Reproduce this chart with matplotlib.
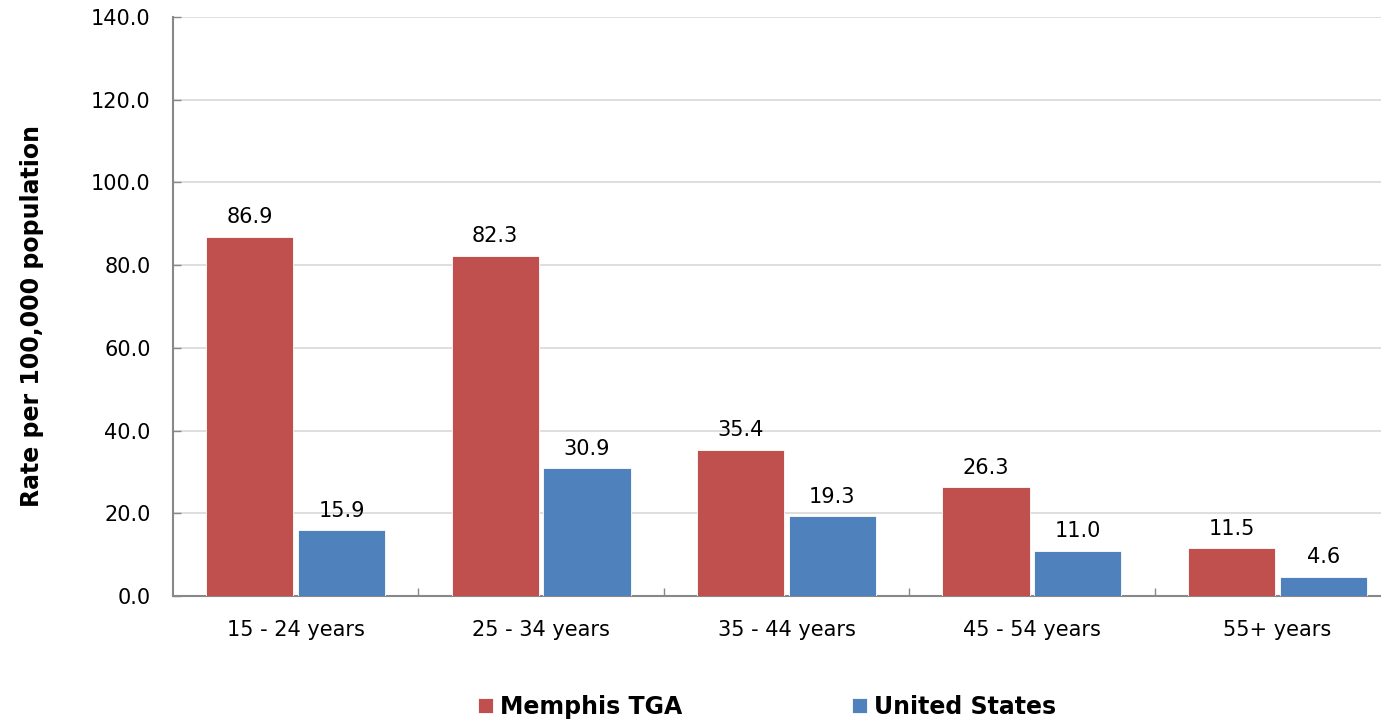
import matplotlib
matplotlib.use("Agg")
import matplotlib.pyplot as plt
import numpy as np

categories = ["15 - 24 years", "25 - 34 years", "35 - 44 years", "45 - 54 years", "55+ years"]
memphis = [86.9, 82.3, 35.4, 26.3, 11.5]
us = [15.9, 30.9, 19.3, 11.0, 4.6]
series_names = ["Memphis TGA", "United States"]
colors = ["#C0504D", "#4F81BD"]

plt.rcParams['font.family'] = ['DejaVu Sans']
fig = plt.figure(figsize=(13.81, 7.22), dpi=100)
W, H = 1381, 722
ax = fig.add_axes([173 / W, 1 - 596 / H, (1381 - 173) / W, (596 - 17) / H])

x = np.arange(len(categories))
bw = 0.355
off = 0.187
b1 = ax.bar(x - off, memphis, bw, color=colors[0], edgecolor="white", linewidth=0.6, label=series_names[0], zorder=3)
b2 = ax.bar(x + off, us, bw, color=colors[1], edgecolor="white", linewidth=0.6, label=series_names[1], zorder=3)

fs = 15
for bars, vals in ((b1, memphis), (b2, us)):
    for r, v in zip(bars, vals):
        ax.text(r.get_x() + r.get_width() / 2, v + 2.3, f"{v:.1f}", ha="center", va="bottom", fontsize=fs, color="black")

ax.set_ylim(0, 140)
ax.set_yticks(np.arange(0, 141, 20))
ax.set_yticklabels([f"{v:.1f}" for v in np.arange(0, 141, 20)], fontsize=fs)
ax.set_xlim(-0.5, 4.5 - 19 / 245)
ax.set_xticks(x)
ax.set_xticklabels(categories, fontsize=fs)
ax.tick_params(axis="x", length=0, pad=17)
ax.set_xticks(np.arange(0.5, 4.5, 1), minor=True)
ax.tick_params(axis="x", which="minor", direction="in", length=6, color="#888888", width=1)
ax.tick_params(axis="y", direction="in", length=6, color="#888888", width=1, pad=16)

ax.yaxis.grid(True, color="#D9D9D9", linewidth=1.2, zorder=0)
ax.set_axisbelow(True)
for s in ["top", "right"]:
    ax.spines[s].set_visible(False)
for s in ["left", "bottom"]:
    ax.spines[s].set_color("#888888")
    ax.spines[s].set_linewidth(1.5)

fig.text(32 / W, 1 - 316 / H, "Rate per 100,000 population", rotation=90, ha="center", va="center",
         fontsize=17, fontweight="bold")

leg = fig.legend(handles=[b1, b2], labels=series_names, loc="center", bbox_to_anchor=(767 / W, 1 - 707 / H),
                 ncol=2, frameon=False, prop={"weight": "bold", "size": 17}, handlelength=0.62, handleheight=0.62,
                 columnspacing=7.2, handletextpad=0.3)

fig.savefig("out.png", dpi=100)
